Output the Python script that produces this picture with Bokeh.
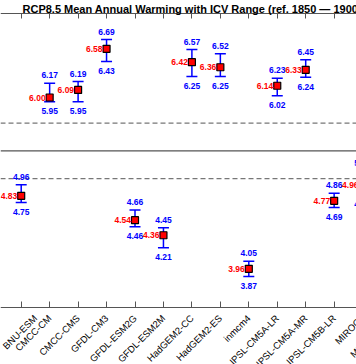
import math
from bokeh.plotting import figure
from bokeh.models import (ColumnDataSource, Range1d, FixedTicker, LinearAxis, Span,
                          Whisker, TeeHead, LabelSet, Label)
from bokeh.core.properties import value
from bokeh.embed import file_html
from bokeh.resources import INLINE

# ---------------- data ----------------
models = ["BNU-ESM", "CMCC-CM", "CMCC-CMS", "GFDL-CM3", "GFDL-ESM2G", "GFDL-ESM2M",
          "HadGEM2-CC", "HadGEM2-ES", "inmcm4", "IPSL-CM5A-LR", "IPSL-CM5A-MR",
          "IPSL-CM5B-LR", "MIROC5", "MIROC-ESM"]
mean_warming = [4.83, 6.00, 6.09, 6.58, 4.54, 4.36, 6.42, 6.36, 3.96, 6.14, 6.33, 4.77, 4.96]
icv_low = [4.75, 5.95, 5.95, 6.43, 4.46, 4.21, 6.25, 6.25, 3.87, 6.02, 6.24, 4.69, 4.84]
icv_high = [4.96, 6.17, 6.19, 6.69, 4.66, 4.45, 6.57, 6.52, 4.05, 6.23, 6.45, 4.86, 5.12]
ensemble_mean = 5.365
ensemble_spread = 0.33
y_axis_min, y_axis_max = 3.5, 7.0
title_text = "RCP8.5 Mean Annual Warming with ICV Range (ref. 1850 \u2014 1900)"

n = len(mean_warming)
src = ColumnDataSource(dict(
    x=list(range(n)), mean=mean_warming, lo=icv_low, hi=icv_high,
    mean_txt=[f"{v:.2f}" for v in mean_warming],
    lo_txt=[f"{v:.2f}" for v in icv_low],
    hi_txt=[f"{v:.2f}" for v in icv_high],
))

# ---------------- layout (the reference is a crop of a larger plot) ----------------
W, H = 356, 364
px_per_cat = 28.45          # horizontal pixels per model
px_per_deg = 84.0           # vertical pixels per degree
top_px = 13                 # plot box top in the picture
x0 = -20.7 / px_per_cat
y_hi = y_axis_max + top_px / px_per_deg
y_lo = y_axis_max - (H - top_px) / px_per_deg
label_standoff = 9
label_size = "9.5px"

p = figure(width=W, height=H, output_backend="svg", toolbar_location=None,
           x_range=Range1d(x0, x0 + W / px_per_cat), y_range=Range1d(y_lo, y_hi),
           x_axis_location=None, y_axis_location=None,
           min_border=0)
p.outline_line_color = None
p.xgrid.grid_line_color = None
p.ygrid.grid_line_color = None
p.background_fill_color = "white"
p.border_fill_color = "white"

FONT = "Liberation Sans"
ticker = FixedTicker(ticks=list(range(len(models))))

bottom = LinearAxis(ticker=ticker, fixed_location=y_axis_min,
                    major_label_overrides={i: m for i, m in enumerate(models)})
bottom.major_label_orientation = math.pi / 4
bottom.major_label_text_font = FONT
bottom.major_label_text_font_size = label_size
bottom.major_label_text_color = "black"
bottom.major_tick_in = 6
bottom.major_tick_out = 0
bottom.minor_tick_line_color = None
bottom.axis_line_color = "#555555"
bottom.major_tick_line_color = "#555555"
bottom.major_label_standoff = label_standoff
p.add_layout(bottom, "below")

top = LinearAxis(ticker=ticker, fixed_location=y_axis_max)
top.major_label_text_color = None
top.major_tick_in = 5
top.major_tick_out = 0
top.minor_tick_line_color = None
top.axis_line_color = "#555555"
top.major_tick_line_color = "#555555"
p.add_layout(top, "above")

# ensemble mean and spread lines
p.add_layout(Span(location=ensemble_mean, dimension="width", line_color="#555555", line_width=1.3))
for loc in (ensemble_mean + ensemble_spread, ensemble_mean - ensemble_spread):
    p.add_layout(Span(location=loc, dimension="width", line_color="#777777",
                      line_width=1.2, line_dash="5 3"))

# ICV range whiskers
p.add_layout(Whisker(source=src, base="x", upper="hi", lower="lo",
                     line_color="blue", line_width=1.5,
                     upper_head=TeeHead(size=11, line_color="blue", line_width=1.5),
                     lower_head=TeeHead(size=11, line_color="blue", line_width=1.5)))

p.scatter("x", "mean", source=src, marker="square", size=7,
          fill_color="red", line_color="black", line_width=1.2)

common = dict(source=src, text_font=value(FONT), text_font_size="8.5px", text_font_style="bold")
p.add_layout(LabelSet(x="x", y="hi", text="hi_txt", text_color="blue", text_align="center",
                      text_baseline="alphabetic", y_offset=5, **common))
p.add_layout(LabelSet(x="x", y="lo", text="lo_txt", text_color="blue", text_align="center",
                      text_baseline="alphabetic", y_offset=-12.5, **common))
p.add_layout(LabelSet(x="x", y="mean", text="mean_txt", text_color="red", text_align="right",
                      text_baseline="middle", x_offset=-4, **common))

# tick labels of models that lie beyond the visible part of the axis
extra = [i for i in range(len(models)) if i > x0 + W / px_per_cat]
extra_src = ColumnDataSource(dict(x=extra, y=[y_axis_min] * len(extra),
                                  name=[models[i] for i in extra]))
p.add_layout(LabelSet(source=extra_src, x="x", y="y", text="name", angle=math.pi / 4,
                      y_offset=-label_standoff, text_align="right", text_baseline="middle",
                      text_font=value(FONT), text_font_size=label_size, text_color="black"))

p.add_layout(Label(x=22, y=H - 8.3, x_units="screen", y_units="screen", text=title_text,
                   text_font=FONT, text_font_size="11px", text_font_style="bold",
                   text_color="black", text_baseline="alphabetic"))

open("out.html", "w").write(file_html(p, INLINE))
